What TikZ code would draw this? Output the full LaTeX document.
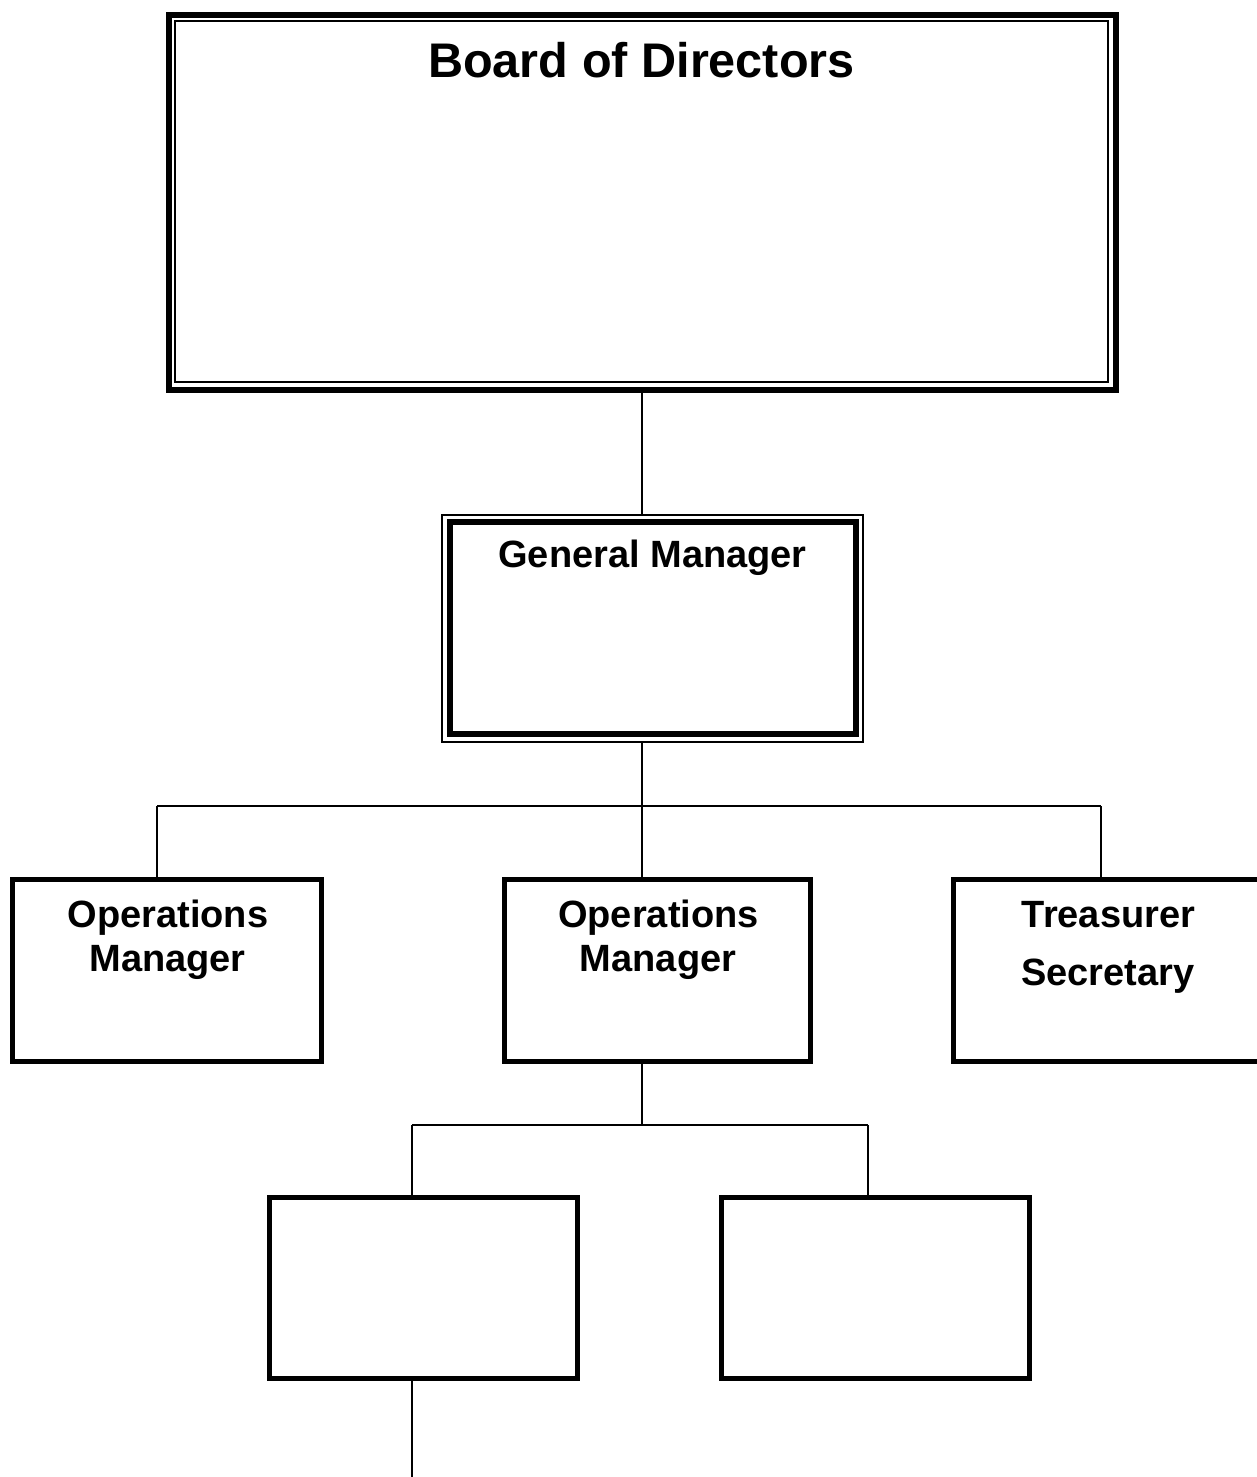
\documentclass[tikz,border=0pt]{standalone}
\usepackage{fontspec}
\setmainfont{Liberation Sans}
\begin{document}
\begin{tikzpicture}[x=0.5pt,y=-0.5pt,
  box/.style={draw=black,rectangle,inner sep=0pt,line width=2.5pt,
    minimum width=#1*0.5pt},
  thickframe/.style={draw=black,rectangle,inner sep=0pt,line width=3pt},
  thinframe/.style={draw=black,rectangle,inner sep=0pt,line width=1pt},
  link/.style={line width=1.1pt},
  big/.style={font=\fontsize{24.3}{28}\selectfont\bfseries,inner sep=0pt,anchor=base},
  lbl/.style={font=\fontsize{19}{22}\selectfont\bfseries,inner sep=0pt,anchor=base}]
\useasboundingbox (0,0) rectangle (1257,1477);

% Board of Directors: heavy outer frame with a thin inner rule
\node[thickframe,minimum width=473.5pt,minimum height=187.5pt] (board) at (642,202.5) {};
\node[thinframe,minimum width=466.5pt,minimum height=180.5pt] (boardin) at (641.5,201.5) {};
\node[big] (boardtxt) at (641.5,78) {Board of Directors};

% General Manager: thin outer rule with a heavy inner frame
\node[thinframe,minimum width=210.5pt,minimum height=113.5pt] (gmouter) at (652.5,628.5) {};
\node[thickframe,minimum width=203pt,minimum height=106pt] (gm) at (653,628) {};
\node[lbl] (gmtxt) at (652.5,567) {General Manager};

% second row
\node[box=309,minimum height=91pt] (ops1) at (167,970.5) {};
\node[box=306,minimum height=91pt] (ops2) at (657.5,970.5) {};
\node[box=309,minimum height=91pt] (treas) at (1107.5,970.5) {};
\node[lbl] (ops1a) at (168,927) {Operations};
\node[lbl] (ops1b) at (167.5,971) {Manager};
\node[lbl] (ops2a) at (658.5,927) {Operations};
\node[lbl] (ops2b) at (658,971) {Manager};
\node[lbl] (treasa) at (1108.5,927) {Treasurer};
\node[lbl] (treasb) at (1108,985) {Secretary};

% third row
\node[box=308,minimum height=90.5pt] (sub1) at (423.5,1288) {};
\node[box=308,minimum height=90.5pt] (sub2) at (875.5,1288) {};

% junction points of the connectors
\coordinate (busL) at (157,806);
\coordinate (busM) at (642,806);
\coordinate (busR) at (1101,806);
\coordinate (opsdrop) at (642,1063);
\coordinate (bus2L) at (412,1125);
\coordinate (bus2M) at (642,1125);
\coordinate (bus2R) at (868,1125);
\coordinate (subdrop) at (412,1380);
\coordinate (tail) at (412,1477);

% connectors
\draw[link] (board.south) -- (board.south |- gmouter.north);
\draw[link] (busM |- gmouter.south) -- (busM);
\draw[link] (busL) -- (busR);
\draw[link] (busL) -- (busL |- ops1.north);
\draw[link] (busM) -- (busM |- ops2.north);
\draw[link] (busR) -- (busR |- treas.north);
\draw[link] (opsdrop |- ops2.south) -- (bus2M);
\draw[link] (bus2L) -- (bus2R);
\draw[link] (bus2L) -- (bus2L |- sub1.north);
\draw[link] (bus2R) -- (bus2R |- sub2.north);
\draw[link] (subdrop |- sub1.south) -- (tail);
\end{tikzpicture}
\end{document}
